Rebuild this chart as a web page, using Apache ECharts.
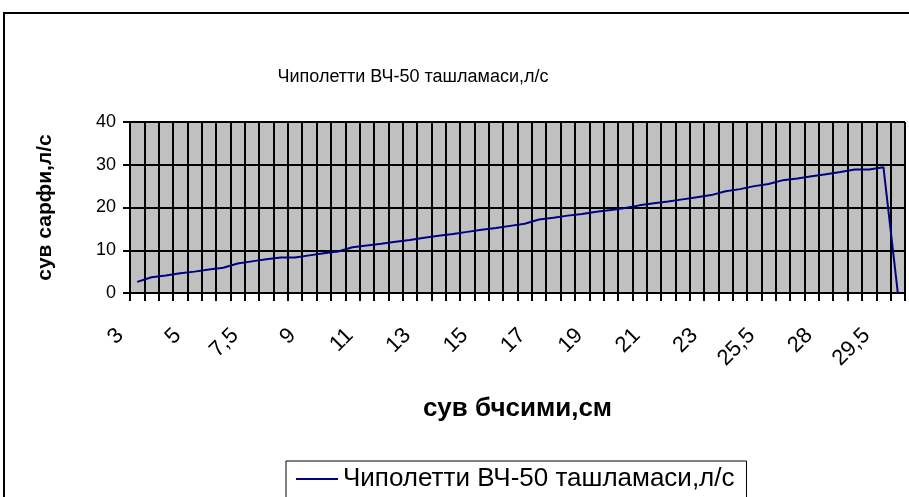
<!DOCTYPE html>
<html>
<head>
<meta charset="utf-8">
<script src="https://cdn.jsdelivr.net/npm/echarts@6/dist/echarts.min.js"></script>
<style>
html,body{margin:0;padding:0;background:#fff;}
#chart{width:909px;height:497px;}
</style>
</head>
<body>
<div id="chart"></div>
<script>
var titleText = 'Чиполетти ВЧ-50 ташламаси,л/с';
var seriesName = 'Чиполетти ВЧ-50 ташламаси,л/с';
var xAxisName = 'сув бчсими,см';
var yAxisName = 'сув сарфи,л/с';

var depths = [3, 3.5, 4, 4.5, 5, 5.5, 6, 7, 7.5, 8, 8.2, 8.5, 9, 9.5, 10, 10.5, 11, 11.5, 12, 12.5,
  13, 13.5, 14, 14.5, 15, 15.5, 16, 16.5, 17, 17.5, 18, 18.5, 19, 19.5, 20, 20.5, 21, 21.5, 22, 22.5,
  23, 23.5, 24, 25, 25.5, 26, 27, 27.5, 28, 28.5, 28.8, 29, 29.5, 30];

var flow = [2.6, 3.7, 4.1, 4.6, 5.0, 5.5, 5.9, 6.9, 7.4, 7.9,
  8.3, 8.3, 8.8, 9.3, 9.7, 10.7, 11.1, 11.5, 12.0, 12.4,
  12.9, 13.4, 13.8, 14.3, 14.8, 15.2, 15.7, 16.2, 17.2, 17.6,
  18.1, 18.5, 19.0, 19.4, 19.9, 20.5, 21.0, 21.4, 21.9, 22.4,
  22.9, 23.8, 24.3, 25.0, 25.5, 26.4, 26.8, 27.3, 27.8, 28.3,
  28.9, 28.9, 29.4, 0];

var categories = depths.map(function (v) { return String(v).replace('.', ','); });

var chart = echarts.init(document.getElementById('chart'), null, {renderer: 'canvas'});
var F = 'Arial, "Liberation Sans", sans-serif';
chart.setOption({
  animation: false,
  backgroundColor: '#ffffff',
  title: {
    text: titleText,
    left: 408,
    top: 63,
    textAlign: 'center',
    textStyle: {fontFamily: F, fontSize: 18, fontWeight: 'normal', color: '#000'}
  },
  graphic: [{
    type: 'rect',
    shape: {x: 4, y: 13, width: 1000, height: 1000},
    style: {fill: 'none', stroke: '#000', lineWidth: 2},
    silent: true, z: -1
  }],
  legend: {
    left: 286,
    top: 461,
    data: [seriesName],
    icon: 'rect',
    itemWidth: 42,
    itemHeight: 2,
    itemGap: 4,
    padding: [5, 12, 12, 10],
    borderColor: '#000',
    borderWidth: 1,
    backgroundColor: '#fff',
    textStyle: {fontFamily: F, fontSize: 26, color: '#000'}
  },
  grid: {
    left: 130, top: 122, width: 775, height: 171,
    show: true, backgroundColor: '#c0c0c0', borderColor: '#808080', borderWidth: 1
  },
  xAxis: {
    type: 'category',
    data: categories,
    boundaryGap: true,
    name: xAxisName,
    nameLocation: 'middle',
    nameGap: 103,
    nameTextStyle: {fontFamily: F, fontSize: 26, fontWeight: 'bold', color: '#000'},
    axisLine: {lineStyle: {color: '#000', width: 2}},
    axisTick: {show: true, interval: 0, length: 8, lineStyle: {color: '#000', width: 2}},
    splitLine: {show: true, interval: 0, lineStyle: {color: '#000', width: 2}},
    axisLabel: {interval: 3, rotate: 45, margin: 22, padding: [0, 24, 0, 0],
      fontFamily: F, fontSize: 22, color: '#000'}
  },
  yAxis: {
    type: 'value',
    min: 0, max: 40, interval: 10,
    name: yAxisName,
    nameLocation: 'middle',
    nameRotate: 90,
    nameGap: 74,
    nameTextStyle: {fontFamily: F, fontSize: 21, fontWeight: 'bold', color: '#000'},
    axisLine: {show: true, lineStyle: {color: '#000', width: 2}},
    axisTick: {show: true, length: 7, lineStyle: {color: '#000', width: 2}},
    splitLine: {show: true, lineStyle: {color: '#000', width: 2}},
    axisLabel: {fontFamily: F, fontSize: 18, color: '#000', margin: 14}
  },
  series: [{
    name: seriesName,
    type: 'line',
    data: flow,
    showSymbol: false,
    symbol: 'none',
    lineStyle: {color: '#000080', width: 2},
    itemStyle: {color: '#000080'}
  }]
});
</script>
</body>
</html>
